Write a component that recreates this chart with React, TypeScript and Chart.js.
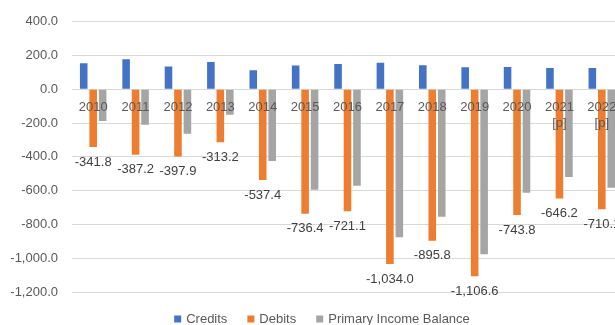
import React, { useEffect, useRef } from "react";
import { Chart, registerables } from "chart.js";

Chart.register(...registerables);

const categories: (string | string[])[] = [
  "2010", "2011", "2012", "2013", "2014", "2015", "2016", "2017", "2018", "2019", "2020",
  ["2021", "[p]"], ["2022", "[p]"],
];
const credits = [154, 178, 135, 162, 113, 141, 150, 158, 142, 131, 132, 127, 127];
const debits = [-341.8, -387.2, -397.9, -313.2, -537.4, -736.4, -721.1, -1034.0, -895.8, -1106.6, -743.8, -646.2, -710.1];
const balance = [-188, -209, -263, -151, -424, -595, -571, -876, -754, -976, -612, -519, -583];
const seriesNames = ["Credits", "Debits", "Primary Income Balance"];
const seriesColors = ["#4472C4", "#ED7D31", "#A5A5A5"];

const FONT = "'Liberation Sans', Arial, sans-serif";
const fmt = new Intl.NumberFormat("en-US", { minimumFractionDigits: 1, maximumFractionDigits: 1 });

const debitLabels = {
  id: "debitLabels",
  afterDatasetsDraw(chart: any) {
    const ctx = chart.ctx;
    const meta = chart.getDatasetMeta(1);
    ctx.save();
    ctx.font = `13px ${FONT}`;
    ctx.fillStyle = "#404040";
    ctx.textAlign = "center";
    ctx.textBaseline = "middle";
    meta.data.forEach((bar: any, i: number) => {
      ctx.fillText(fmt.format(debits[i]), bar.x, bar.y + 15);
    });
    ctx.restore();
  },
};

const customLegend = {
  id: "customLegend",
  afterDraw(chart: any) {
    const ctx = chart.ctx;
    ctx.save();
    ctx.font = `13px ${FONT}`;
    ctx.textBaseline = "middle";
    ctx.textAlign = "left";
    const box = 7, gapText = 5, gapItem = 20;
    const widths = seriesNames.map((n) => box + gapText + ctx.measureText(n).width);
    const total = widths.reduce((a, b) => a + b, 0) + gapItem * (seriesNames.length - 1);
    let x = 322 - total / 2;
    const y = 319;
    seriesNames.forEach((n, i) => {
      ctx.fillStyle = seriesColors[i];
      ctx.fillRect(x, y - box / 2, box, box);
      ctx.fillStyle = "#595959";
      ctx.fillText(n, x + box + gapText, y);
      x += widths[i] + gapItem;
    });
    ctx.restore();
  },
};

export default function App() {
  const ref = useRef<HTMLCanvasElement>(null);
  useEffect(() => {
    if (!ref.current) return;
    const chart = new Chart(ref.current, {
      type: "bar",
      data: {
        labels: categories,
        datasets: [
          { label: seriesNames[0], data: credits, backgroundColor: seriesColors[0] },
          { label: seriesNames[1], data: debits, backgroundColor: seriesColors[1] },
          { label: seriesNames[2], data: balance, backgroundColor: seriesColors[2] },
        ],
      },
      options: {
        responsive: false,
        animation: false,
        layout: { padding: { left: 10, right: 7, top: 21, bottom: 33 } },
        datasets: { bar: { categoryPercentage: 0.67, barPercentage: 0.8 } },
        plugins: { legend: { display: false }, tooltip: { enabled: false } },
        scales: {
          x: {
            position: { y: 0 } as any,
            grid: { display: false, drawTicks: false },
            border: { display: false },
            ticks: {
              z: 1,
              color: "#595959",
              font: { family: FONT, size: 13, lineHeight: 1.25 },
              padding: 10,
              maxRotation: 0,
              autoSkip: false,
            },
          },
          y: {
            min: -1200,
            max: 400,
            grid: { color: "#d9d9d9", drawTicks: false },
            border: { display: false },
            afterFit: (scale: any) => {
              scale.width = 62;
            },
            ticks: {
              stepSize: 200,
              color: "#595959",
              font: { family: FONT, size: 13 },
              padding: 14,
              callback: (v: any) => fmt.format(Number(v)),
            },
          },
        },
      },
      plugins: [debitLabels, customLegend],
    });
    return () => chart.destroy();
  }, []);
  return (
    <div style={{ position: "fixed", left: 0, top: 0, width: 615, height: 325, overflow: "hidden", background: "#fff" }}>
      <canvas ref={ref} width={630} height={325} style={{ width: 630, height: 325, display: "block" }} />
    </div>
  );
}
